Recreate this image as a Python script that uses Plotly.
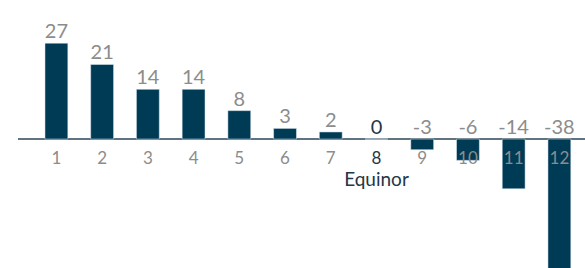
import plotly.graph_objects as go

categories = ["1", "2", "3", "4", "5", "6", "7", "8", "9", "10", "11", "12"]
values = [27, 21, 14, 14, 8, 3, 2, 0, -3, -6, -14, -38]
highlight = "8"
highlight_name = "Equinor"

BAR = "#003b55"
GRAY = "#8c8c8c"
DARK = "#243746"

x = list(range(1, len(categories) + 1))
label_y = [max(v, 0) for v in values]
label_colors = [DARK if c == highlight else GRAY for c in categories]
hx = x[categories.index(highlight)]
tick_offset = -3.3    # gap below the zero line, in axis units
name_offset = -9.2    # highlight name below the tick labels, in axis units

fig = go.Figure()
fig.add_trace(go.Bar(x=x, y=values, marker_color=BAR, width=0.5, hoverinfo="skip"))
fig.add_trace(go.Scatter(
    x=x, y=label_y, mode="text", text=[str(v) for v in values],
    textposition="top center",
    textfont=dict(family="Lato", size=20, color=label_colors),
    cliponaxis=False, hoverinfo="skip"))
fig.add_trace(go.Scatter(
    x=x, y=[tick_offset] * len(x), mode="text", text=categories,
    textposition="bottom center",
    textfont=dict(family="Lato", size=17, color=label_colors),
    cliponaxis=False, hoverinfo="skip"))
fig.add_trace(go.Scatter(
    x=[hx], y=[name_offset], mode="text", text=[highlight_name],
    textposition="bottom center",
    textfont=dict(family="Lato", size=19, color=DARK),
    cliponaxis=False, hoverinfo="skip"))

fig.update_layout(
    width=585, height=268,
    margin=dict(l=18, r=0, t=0, b=0),
    paper_bgcolor="white", plot_bgcolor="white",
    showlegend=False,
    xaxis=dict(range=[0.16, 12.56], visible=False, showgrid=False, fixedrange=True),
    yaxis=dict(range=[-36.3, 39.15], showgrid=False, showticklabels=False,
               zeroline=True, zerolinecolor="#5f7480", zerolinewidth=2,
               fixedrange=True),
)
fig.write_html("out.html", config={"displayModeBar": False},
               post_script="document.body.style.margin='0';")
